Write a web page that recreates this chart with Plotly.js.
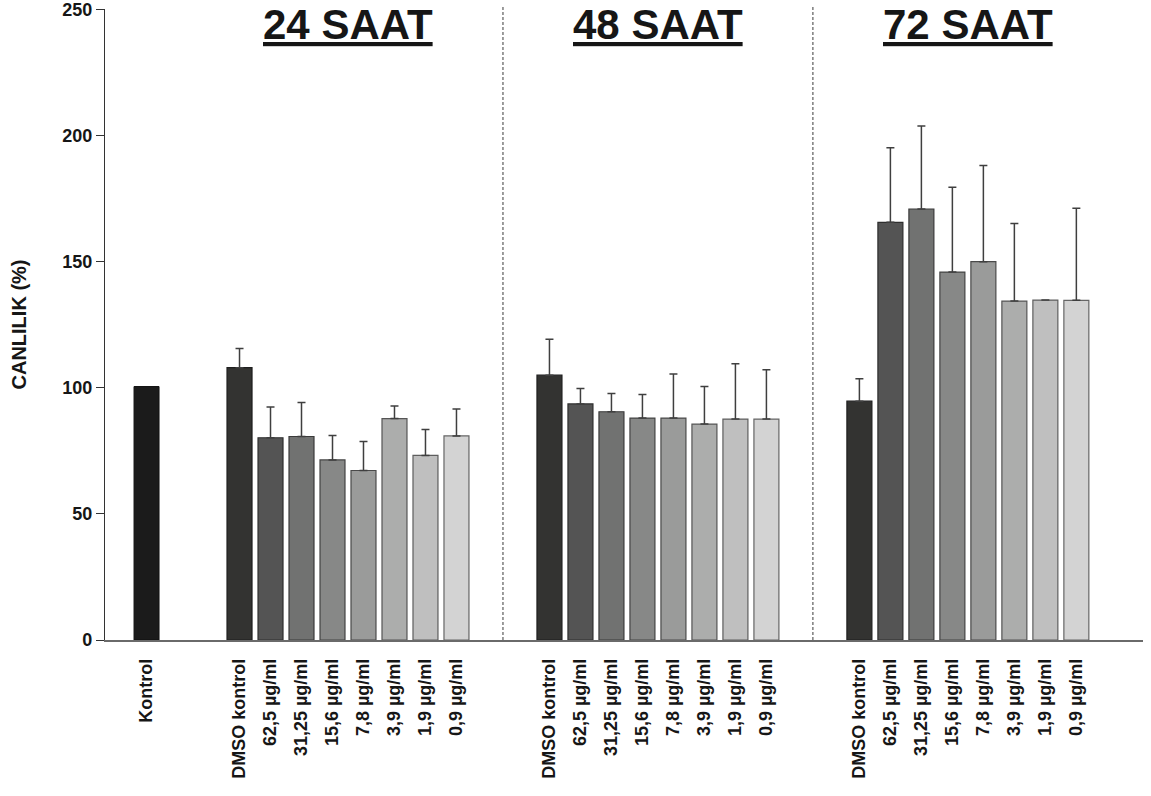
<!DOCTYPE html>
<html>
<head>
<meta charset="utf-8">
<script src="https://cdn.plot.ly/plotly-3.0.1.min.js"></script>
<style>
  html, body { margin: 0; padding: 0; background: #fff; }
  #chart { width: 1151px; height: 796px; }
</style>
</head>
<body>
<div id="chart"></div>
<script>
// Viability (%) per treatment, mean and upper SD, for 24 / 48 / 72 h exposure
const controlLabel = 'Kontrol';
const controlValue = 100.5;

const doseLabels = ['DMSO kontrol', '62,5 µg/ml', '31,25 µg/ml', '15,6 µg/ml',
                    '7,8 µg/ml', '3,9 µg/ml', '1,9 µg/ml', '0,9 µg/ml'];

const groupTitles = ['24 SAAT', '48 SAAT', '72 SAAT'];

const values24 = [108.0, 80.2, 80.7, 71.4, 67.2, 87.8, 73.2, 80.9];
const errors24 = [7.6, 12.2, 13.5, 9.7, 11.5, 5.0, 10.3, 10.7];

const values48 = [105.0, 93.6, 90.5, 88.0, 88.0, 85.6, 87.6, 87.6];
const errors48 = [14.3, 6.1, 7.2, 9.3, 17.5, 14.9, 21.9, 19.6];

const values72 = [94.7, 165.6, 170.9, 145.9, 150.0, 134.4, 134.8, 134.7];
const errors72 = [8.9, 29.6, 32.9, 33.6, 38.1, 30.7, NaN, 36.5];

const yTicks = [0, 50, 100, 150, 200, 250];

// bar fills, darkest (DMSO) to lightest (lowest dose)
const controlColor = '#1b1b1b';
const doseColors = ['#333331', '#545454', '#717271', '#878887',
                    '#9a9b9a', '#acadac', '#bfbfbf', '#d3d3d3'];
const edgeColors = ['#1e1e1e', '#2e2e2e', '#3a3a3a', '#444444',
                    '#4a4a4a', '#555555', '#5e5e5e', '#666666'];

// slot layout: Kontrol at 0, each group of 8 bars starts 3 slots after the previous block
const groupStarts = [3, 13, 23];
const seriesValues = [values24, values48, values72];
const seriesErrors = [errors24, errors48, errors72];
const barWidth = 0.806;

const font = 'Liberation Sans, Arial, Helvetica, sans-serif';

const traces = [{
  type: 'bar',
  x: [0],
  y: [controlValue],
  width: barWidth,
  marker: { color: controlColor, line: { color: '#111', width: 1 } },
  hoverinfo: 'x+y',
  showlegend: false
}];

const tickVals = [0];
const tickText = [controlLabel];

seriesValues.forEach((vals, g) => {
  const xs = vals.map((_, i) => groupStarts[g] + i);
  xs.forEach((x, i) => { tickVals.push(x); tickText.push(doseLabels[i]); });
  traces.push({
    type: 'bar',
    x: xs,
    y: vals,
    width: barWidth,
    marker: { color: doseColors, line: { color: edgeColors, width: 1.2 } },
    error_y: {
      type: 'data',
      symmetric: false,
      array: seriesErrors[g],
      arrayminus: vals.map(() => 0),
      color: '#3f3f3f',
      thickness: 1.5,
      width: 4
    },
    showlegend: false
  });
});

// dashed separators between the exposure-time groups
const separators = [11.5, 21.5];
const shapes = separators.map(x => ({
  type: 'line', xref: 'x', yref: 'paper',
  x0: x, x1: x, y0: 0, y1: 1.006,
  line: { color: '#3a3a3a', width: 1, dash: '3px,2px' }
}));

const annotations = groupTitles.map((t, g) => ({
  text: '<u>' + t + '</u>',
  xref: 'x', yref: 'paper',
  x: groupStarts[g] + 3.5,
  y: 0.976,
  xanchor: 'center', yanchor: 'middle',
  showarrow: false,
  font: { family: font, size: 42, weight: 'bold', color: '#161616' }
}));

const layout = {
  width: 1151,
  height: 796,
  margin: { l: 105, r: 8, t: 9, b: 156 },
  paper_bgcolor: '#ffffff',
  plot_bgcolor: '#ffffff',
  barmode: 'overlay',
  font: { family: font, color: '#1a1a1a' },
  xaxis: {
    range: [-1.34, 32.15],
    tickvals: tickVals,
    ticktext: tickText,
    tickangle: -90,
    ticks: '',
    ticklabelstandoff: 10,
    tickfont: { family: font, size: 18, weight: 'bold', color: '#161616' },
    showline: true,
    linecolor: '#6a6a6a',
    linewidth: 1.5,
    showgrid: false,
    zeroline: false,
    fixedrange: true
  },
  yaxis: {
    range: [0, 250.2],
    tickvals: yTicks,
    ticktext: yTicks.map(String),
    ticks: 'outside',
    ticklen: 8,
    tickwidth: 1,
    tickcolor: '#333',
    ticklabeloverflow: 'allow',
    tickfont: { family: font, size: 18, weight: 'bold', color: '#161616' },
    showline: true,
    linecolor: '#333',
    linewidth: 1.2,
    showgrid: false,
    zeroline: false,
    fixedrange: true,
    title: {
      text: 'CANLILIK (%)',
      standoff: 30,
      font: { family: font, size: 20, weight: 'bold', color: '#161616' }
    }
  },
  shapes: shapes,
  annotations: annotations
};

Plotly.newPlot('chart', traces, layout, { displayModeBar: false, staticPlot: true });
</script>
</body>
</html>
